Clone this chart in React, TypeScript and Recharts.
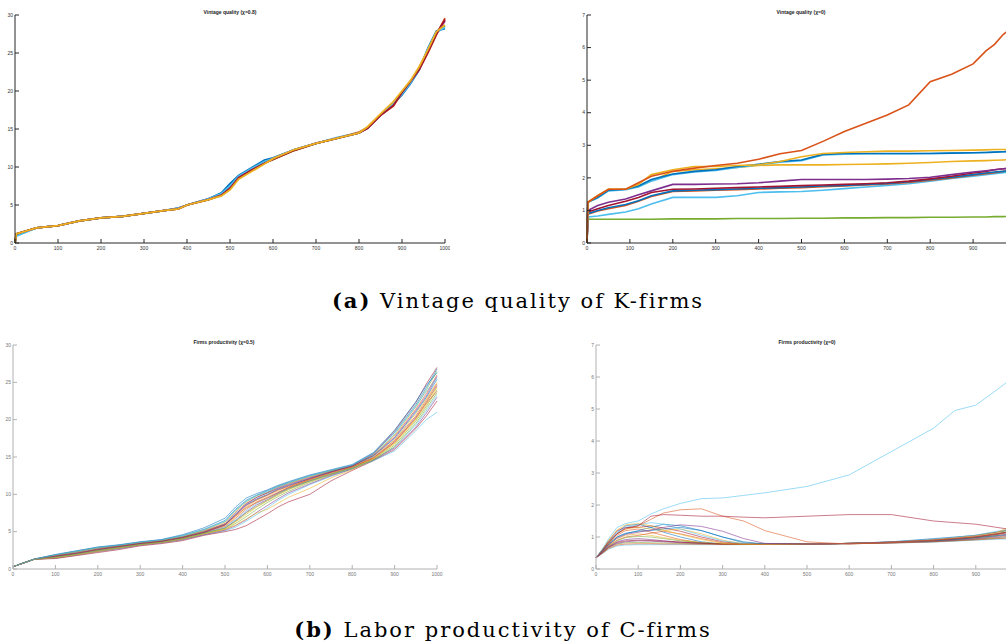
import { LineChart, Line, XAxis, YAxis } from "recharts";

// MATLAB default line colours
const C = {
  blue: "#0072BD",
  red: "#D95319",
  yellow: "#EDB120",
  purple: "#7E2F8E",
  green: "#77AC30",
  cyan: "#4DBEEE",
  maroon: "#A2142F",
};
const CYCLE = [C.blue, C.red, C.yellow, C.purple, C.green, C.cyan, C.maroon];

const X_TICKS = [0, 100, 200, 300, 400, 500, 600, 700, 800, 900, 1000];
// right-hand panels run past the page edge, so their last label is never shown
const X_TICKS_CUT = [0, 100, 200, 300, 400, 500, 600, 700, 800, 900];
const Y_TICKS_30 = [0, 5, 10, 15, 20, 25, 30];
const Y_TICKS_7 = [0, 1, 2, 3, 4, 5, 6, 7];

// ---- Vintage quality, chi = 0.8 ----
const XA = [0, 3, 50, 100, 150, 200, 250, 300, 350, 380, 400, 450, 480, 500, 520, 550, 580, 600, 650, 700, 750, 800, 820, 850, 880, 900, 920, 940, 960, 980, 1000];
const aBlue = [0, 1.1, 2.0, 2.3, 2.9, 3.3, 3.5, 3.9, 4.3, 4.6, 5.0, 5.8, 6.6, 7.8, 8.9, 9.9, 10.9, 11.2, 12.3, 13.1, 13.8, 14.5, 15.2, 16.9, 18.3, 19.5, 21.0, 22.8, 25.6, 27.9, 28.2];
const aRed = [0, 1.2, 2.0, 2.3, 2.9, 3.3, 3.5, 3.9, 4.3, 4.5, 5.0, 5.7, 6.3, 7.2, 8.6, 9.6, 10.5, 11.0, 12.2, 13.1, 13.8, 14.6, 15.2, 16.8, 18.0, 19.8, 21.3, 22.9, 25.0, 27.4, 29.6];
const aPurple = [0, 1.2, 2.0, 2.3, 2.9, 3.3, 3.5, 3.9, 4.3, 4.6, 5.0, 5.8, 6.4, 7.3, 8.7, 9.7, 10.6, 11.1, 12.3, 13.1, 13.8, 14.5, 15.1, 16.8, 18.2, 19.8, 21.2, 23.0, 25.2, 27.6, 29.2];
const aGreen = [0, 1.2, 2.0, 2.3, 2.9, 3.3, 3.5, 3.9, 4.3, 4.5, 5.0, 5.7, 6.3, 7.1, 8.5, 9.5, 10.5, 11.0, 12.2, 13.1, 13.8, 14.5, 15.2, 16.9, 18.3, 19.9, 21.2, 23.1, 25.3, 27.7, 28.6];
const aCyan = [0, 0.9, 2.0, 2.3, 2.9, 3.3, 3.5, 3.9, 4.3, 4.6, 5.0, 5.8, 6.5, 7.5, 8.8, 9.8, 10.7, 11.1, 12.3, 13.1, 13.9, 14.5, 15.2, 16.9, 18.4, 19.6, 21.1, 22.9, 25.5, 27.7, 28.4];
const aMaroon = [0, 1.2, 2.0, 2.3, 2.9, 3.3, 3.5, 3.9, 4.3, 4.5, 5.0, 5.7, 6.3, 7.2, 8.6, 9.6, 10.5, 11.0, 12.2, 13.1, 13.8, 14.5, 15.1, 16.8, 18.1, 19.8, 21.3, 22.8, 25.1, 27.5, 29.4];
const aYellow = [0, 1.2, 2.0, 2.3, 2.9, 3.3, 3.5, 3.9, 4.3, 4.5, 5.0, 5.7, 6.2, 7.0, 8.4, 9.4, 10.4, 11.1, 12.3, 13.1, 13.8, 14.5, 15.3, 17.0, 18.6, 20.0, 21.4, 23.2, 25.4, 27.8, 28.7];

// ---- Vintage quality, chi = 0 ----
const XB = [0, 2, 25, 50, 90, 120, 150, 200, 250, 300, 350, 400, 450, 500, 550, 600, 650, 700, 750, 800, 850, 900, 930, 950, 970, 1000];
const bGreen = [0, 0.73, 0.73, 0.73, 0.73, 0.73, 0.73, 0.74, 0.74, 0.74, 0.75, 0.75, 0.75, 0.76, 0.76, 0.77, 0.77, 0.78, 0.78, 0.79, 0.79, 0.8, 0.8, 0.81, 0.81, 0.82];
const bCyanLow = [0, 0.8, 0.83, 0.88, 0.95, 1.05, 1.2, 1.4, 1.4, 1.4, 1.45, 1.55, 1.57, 1.58, 1.62, 1.67, 1.72, 1.77, 1.82, 1.9, 1.98, 2.05, 2.1, 2.13, 2.16, 2.2];
const bRedLow = [0, 0.88, 0.98, 1.05, 1.15, 1.28, 1.43, 1.58, 1.6, 1.62, 1.64, 1.66, 1.68, 1.7, 1.73, 1.75, 1.78, 1.81, 1.86, 1.93, 2.0, 2.08, 2.13, 2.16, 2.2, 2.24];
const bBlueLow = [0, 0.9, 1.0, 1.08, 1.18, 1.3, 1.45, 1.6, 1.62, 1.64, 1.66, 1.68, 1.7, 1.72, 1.75, 1.77, 1.8, 1.83, 1.88, 1.95, 2.02, 2.1, 2.15, 2.18, 2.2, 2.24];
const bMaroon = [0, 0.95, 1.05, 1.15, 1.28, 1.4, 1.55, 1.65, 1.66, 1.68, 1.7, 1.72, 1.74, 1.76, 1.78, 1.8, 1.82, 1.85, 1.9, 1.97, 2.05, 2.15, 2.2, 2.25, 2.28, 2.32];
const bPurple = [0, 1.0, 1.15, 1.25, 1.35, 1.48, 1.6, 1.8, 1.8, 1.81, 1.82, 1.85, 1.9, 1.95, 1.95, 1.95, 1.95, 1.96, 1.98, 2.02, 2.1, 2.18, 2.22, 2.25, 2.28, 2.3];
const bYellowLow = [0, 1.25, 1.45, 1.65, 1.65, 1.75, 1.9, 2.2, 2.25, 2.28, 2.32, 2.38, 2.4, 2.4, 2.4, 2.41, 2.42, 2.43, 2.45, 2.47, 2.5, 2.52, 2.53, 2.54, 2.55, 2.57];
const bCyanHigh = [0, 1.25, 1.38, 1.6, 1.64, 1.72, 1.9, 2.1, 2.18, 2.23, 2.32, 2.4, 2.48, 2.53, 2.7, 2.73, 2.74, 2.74, 2.74, 2.75, 2.76, 2.77, 2.78, 2.79, 2.8, 2.82];
const bBlueHigh = [0, 1.25, 1.4, 1.62, 1.65, 1.75, 1.95, 2.12, 2.2, 2.25, 2.35, 2.42, 2.5, 2.55, 2.72, 2.75, 2.75, 2.75, 2.75, 2.75, 2.76, 2.77, 2.78, 2.79, 2.8, 2.82];
const bYellowHigh = [0, 1.25, 1.45, 1.65, 1.65, 1.8, 2.1, 2.25, 2.35, 2.35, 2.38, 2.4, 2.5, 2.65, 2.75, 2.78, 2.8, 2.82, 2.82, 2.83, 2.84, 2.85, 2.86, 2.87, 2.87, 2.88];
const bRedHigh = [0, 1.25, 1.45, 1.65, 1.65, 1.85, 2.05, 2.2, 2.3, 2.38, 2.45, 2.57, 2.74, 2.84, 3.12, 3.42, 3.68, 3.93, 4.24, 4.95, 5.18, 5.5, 5.9, 6.1, 6.4, 6.7];

// ---- Firms productivity, chi = 0.5 ----
const XC = [0, 25, 50, 100, 150, 200, 250, 300, 350, 400, 450, 500, 525, 550, 575, 600, 625, 650, 700, 750, 800, 850, 900, 950, 975, 1000];
const c01 = [0.3, 0.85, 1.35, 1.9, 2.4, 2.9, 3.2, 3.6, 3.9, 4.5, 5.3, 6.5, 8.0, 9.2, 9.9, 10.5, 11.1, 11.6, 12.5, 13.2, 13.9, 15.5, 18.3, 22.0, 24.3, 26.8];
const c02 = [0.3, 0.82, 1.3, 1.8, 2.3, 2.8, 3.1, 3.5, 3.8, 4.3, 5.1, 6.1, 7.6, 8.8, 9.6, 10.2, 10.9, 11.4, 12.3, 13.1, 13.8, 15.2, 17.8, 21.4, 23.5, 26.0];
const c03 = [0.3, 0.8, 1.3, 1.7, 2.1, 2.6, 3.0, 3.4, 3.7, 4.2, 4.9, 5.8, 7.0, 8.3, 9.2, 9.8, 10.5, 11.0, 12.0, 12.9, 13.7, 15.0, 17.3, 20.8, 22.8, 25.0];
const c04 = [0.3, 0.78, 1.28, 1.6, 2.0, 2.5, 2.9, 3.3, 3.6, 4.1, 4.8, 5.5, 6.5, 7.6, 8.6, 9.3, 10.1, 10.8, 11.8, 12.7, 13.6, 14.8, 17.0, 20.3, 22.3, 24.6];
const c05 = [0.3, 0.8, 1.3, 1.5, 1.9, 2.4, 2.8, 3.3, 3.6, 4.0, 4.7, 5.3, 6.1, 7.0, 8.0, 8.9, 9.7, 10.4, 11.6, 12.6, 13.5, 14.7, 16.6, 19.8, 21.8, 24.0];
const c06 = [0.3, 0.8, 1.3, 1.5, 2.0, 2.3, 2.7, 3.2, 3.5, 3.9, 4.6, 5.1, 5.6, 6.4, 7.3, 8.2, 9.2, 10.0, 11.3, 12.4, 13.4, 14.6, 16.3, 19.3, 21.2, 23.3];
const c07 = [0.3, 0.8, 1.3, 1.4, 1.8, 2.2, 2.6, 3.1, 3.4, 3.8, 4.5, 5.0, 5.3, 5.8, 6.6, 7.4, 8.3, 9.0, 10.0, 11.8, 13.2, 14.5, 16.0, 18.8, 20.5, 22.5];
const c08 = [0.3, 0.82, 1.32, 1.75, 2.2, 2.7, 3.1, 3.45, 3.75, 4.3, 5.0, 6.0, 7.4, 8.6, 9.4, 10.0, 10.7, 11.2, 12.1, 13.0, 13.8, 15.1, 17.5, 21.0, 23.0, 25.4];
const c09 = [0.3, 0.8, 1.3, 1.65, 2.05, 2.55, 2.95, 3.35, 3.65, 4.15, 4.85, 5.7, 6.8, 8.0, 9.0, 9.6, 10.3, 10.9, 11.9, 12.8, 13.6, 14.9, 17.2, 20.5, 22.6, 24.8];
const c10 = [0.3, 0.79, 1.29, 1.55, 1.95, 2.45, 2.85, 3.25, 3.55, 4.05, 4.75, 5.4, 6.3, 7.3, 8.3, 9.1, 9.9, 10.6, 11.7, 12.65, 13.55, 14.75, 16.8, 20.0, 22.0, 24.3];
const c11 = [0.3, 0.8, 1.3, 1.45, 1.85, 2.35, 2.75, 3.2, 3.5, 3.95, 4.6, 5.2, 5.8, 6.6, 7.6, 8.5, 9.4, 10.2, 11.4, 12.5, 13.4, 14.6, 16.2, 19.0, 20.9, 23.0];
const c12 = [0.3, 0.81, 1.31, 1.85, 2.35, 2.85, 3.15, 3.55, 3.85, 4.4, 5.2, 6.3, 7.8, 9.0, 9.8, 10.3, 11.0, 11.5, 12.4, 13.15, 13.85, 15.3, 18.0, 21.7, 24.0, 26.5];
const c13 = [0.3, 0.8, 1.3, 1.6, 2.0, 2.5, 2.9, 3.3, 3.6, 4.1, 4.8, 5.6, 6.6, 7.8, 8.8, 9.5, 10.2, 10.8, 11.8, 12.7, 13.5, 14.5, 15.8, 18.5, 20.0, 21.0];
const c14 = [0.3, 0.8, 1.3, 1.7, 2.1, 2.6, 3.0, 3.4, 3.7, 4.2, 4.9, 5.9, 7.2, 8.5, 9.3, 9.9, 10.6, 11.1, 12.1, 13.0, 13.8, 15.4, 18.5, 22.3, 24.8, 27.0];
const c15 = [0.3, 0.83, 1.33, 1.95, 2.45, 2.95, 3.25, 3.65, 3.95, 4.6, 5.5, 6.8, 8.3, 9.5, 10.1, 10.6, 11.2, 11.7, 12.6, 13.3, 14.0, 15.6, 18.6, 22.4, 24.6, 26.3];
const c16 = [0.3, 0.8, 1.3, 1.75, 2.15, 2.65, 3.05, 3.45, 3.75, 4.25, 5.0, 6.0, 7.1, 8.2, 8.9, 9.5, 10.2, 10.9, 12.0, 12.9, 13.7, 14.9, 17.0, 20.2, 22.2, 23.8];
const c17 = [0.3, 0.8, 1.3, 1.5, 1.9, 2.35, 2.8, 3.25, 3.55, 4.0, 4.7, 5.3, 5.9, 6.7, 7.5, 8.0, 8.8, 9.6, 10.8, 12.2, 13.3, 14.7, 16.9, 20.1, 22.4, 24.4];
const c18 = [0.3, 0.81, 1.31, 1.7, 2.1, 2.6, 3.0, 3.4, 3.7, 4.2, 4.9, 5.9, 7.3, 8.7, 9.6, 10.2, 10.8, 11.3, 12.2, 13.0, 13.8, 15.2, 17.6, 21.2, 23.2, 25.8];
const c19 = [0.3, 0.8, 1.3, 1.58, 1.98, 2.48, 2.88, 3.28, 3.58, 4.08, 4.78, 5.45, 6.4, 7.5, 8.4, 9.2, 10.0, 10.7, 11.8, 12.7, 13.5, 14.6, 16.4, 19.5, 21.5, 23.6];
const c20 = [0.3, 0.8, 1.3, 1.88, 2.38, 2.88, 3.18, 3.58, 3.88, 4.45, 5.25, 6.4, 7.9, 9.1, 9.85, 10.4, 11.0, 11.55, 12.45, 13.2, 13.9, 15.4, 18.2, 21.8, 23.8, 25.6];

// ---- Firms productivity, chi = 0 ----
const XD = [0, 15, 30, 50, 70, 100, 130, 160, 200, 250, 300, 350, 400, 500, 600, 700, 800, 850, 900, 950, 1000];
const d01 = [0.35, 0.6, 0.85, 1.15, 1.35, 1.4, 1.3, 1.15, 1.0, 0.85, 0.78, 0.77, 0.77, 0.78, 0.8, 0.84, 0.9, 0.95, 1.0, 1.1, 1.2];
const d02 = [0.35, 0.58, 0.8, 1.05, 1.2, 1.25, 1.15, 1.05, 0.92, 0.82, 0.78, 0.77, 0.77, 0.78, 0.8, 0.83, 0.88, 0.92, 0.97, 1.05, 1.15];
const d03 = [0.35, 0.55, 0.75, 0.95, 1.05, 1.1, 1.05, 0.98, 0.9, 0.82, 0.78, 0.77, 0.77, 0.78, 0.8, 0.83, 0.87, 0.9, 0.95, 1.0, 1.08];
const d04 = [0.35, 0.52, 0.7, 0.85, 0.92, 0.95, 0.92, 0.88, 0.84, 0.8, 0.78, 0.77, 0.77, 0.78, 0.8, 0.82, 0.86, 0.89, 0.93, 0.98, 1.05];
const d05 = [0.35, 0.5, 0.66, 0.78, 0.82, 0.83, 0.82, 0.81, 0.8, 0.79, 0.78, 0.77, 0.77, 0.78, 0.79, 0.82, 0.85, 0.88, 0.92, 0.96, 1.0];
const d06 = [0.35, 0.48, 0.62, 0.72, 0.75, 0.76, 0.76, 0.76, 0.76, 0.76, 0.76, 0.76, 0.77, 0.78, 0.79, 0.81, 0.84, 0.87, 0.9, 0.93, 0.95];
const d07 = [0.35, 0.6, 0.88, 1.2, 1.3, 1.3, 1.35, 1.28, 1.18, 1.0, 0.85, 0.78, 0.77, 0.78, 0.8, 0.84, 0.92, 0.98, 1.05, 1.15, 1.3];
const d08 = [0.35, 0.56, 0.78, 1.0, 1.1, 1.2, 1.3, 1.4, 1.35, 1.2, 1.0, 0.82, 0.78, 0.78, 0.8, 0.85, 0.95, 1.0, 1.05, 1.15, 1.25];
const d09 = [0.35, 0.54, 0.73, 0.9, 1.0, 1.05, 1.12, 1.18, 1.1, 0.95, 0.82, 0.78, 0.77, 0.78, 0.8, 0.83, 0.9, 0.94, 1.0, 1.1, 1.2];
const d10 = [0.35, 0.57, 0.8, 1.1, 1.25, 1.3, 1.25, 1.2, 1.25, 1.1, 0.9, 0.79, 0.77, 0.78, 0.8, 0.84, 0.9, 0.96, 1.02, 1.12, 1.35];
const d11 = [0.35, 0.5, 0.68, 0.8, 0.85, 0.88, 0.87, 0.85, 0.82, 0.8, 0.78, 0.77, 0.77, 0.78, 0.79, 0.82, 0.86, 0.9, 0.95, 1.02, 1.1];
const d12 = [0.35, 0.53, 0.72, 0.88, 0.98, 1.02, 1.0, 0.95, 0.88, 0.82, 0.78, 0.77, 0.77, 0.78, 0.8, 0.83, 0.88, 0.93, 0.98, 1.05, 1.4];
const d13 = [0.35, 0.59, 0.84, 1.12, 1.3, 1.38, 1.45, 1.4, 1.25, 1.05, 0.88, 0.79, 0.77, 0.78, 0.8, 0.85, 0.93, 0.99, 1.06, 1.18, 1.28];
const d14 = [0.35, 0.51, 0.69, 0.83, 0.88, 0.9, 0.89, 0.87, 0.84, 0.81, 0.78, 0.77, 0.77, 0.78, 0.8, 0.84, 0.89, 0.93, 0.99, 1.08, 1.18];
const d15 = [0.35, 0.56, 0.77, 1.0, 1.12, 1.18, 1.2, 1.25, 1.3, 1.2, 1.0, 0.85, 0.78, 0.78, 0.8, 0.83, 0.88, 0.92, 0.98, 1.04, 1.12];
const d16 = [0.35, 0.49, 0.64, 0.75, 0.78, 0.79, 0.79, 0.78, 0.78, 0.77, 0.77, 0.77, 0.77, 0.78, 0.79, 0.81, 0.85, 0.88, 0.91, 0.95, 0.98];
const d17 = [0.35, 0.61, 0.9, 1.22, 1.38, 1.42, 1.35, 1.22, 1.08, 0.92, 0.8, 0.77, 0.77, 0.78, 0.8, 0.84, 0.91, 0.97, 1.04, 1.14, 1.45];
const d18 = [0.35, 0.55, 0.76, 0.96, 1.08, 1.15, 1.22, 1.3, 1.38, 1.33, 1.18, 0.95, 0.8, 0.78, 0.8, 0.84, 0.9, 0.95, 1.01, 1.1, 1.22];
const dOrange = [0.35, 0.6, 0.85, 1.1, 1.25, 1.35, 1.55, 1.75, 1.85, 1.88, 1.65, 1.5, 1.2, 0.85, 0.78, 0.83, 0.9, 0.95, 1.0, 1.1, 1.2];
const dPink = [0.35, 0.58, 0.82, 1.1, 1.28, 1.35, 1.65, 1.7, 1.68, 1.65, 1.65, 1.62, 1.6, 1.65, 1.7, 1.7, 1.5, 1.45, 1.4, 1.3, 1.2];
const dLeader = [0.35, 0.62, 0.95, 1.3, 1.42, 1.5, 1.72, 1.88, 2.05, 2.2, 2.22, 2.3, 2.38, 2.58, 2.94, 3.67, 4.4, 4.95, 5.12, 5.6, 6.1];

type Series = { key: string; color: string; values: number[] };

function cycled(list: number[][], prefix: string): Series[] {
  return list.map((values, i) => ({ key: `${prefix}${i}`, color: CYCLE[i % CYCLE.length], values }));
}

function toRows(xs: number[], series: Series[]) {
  return xs.map((t, i) => {
    const row: Record<string, number> = { t };
    series.forEach((s) => {
      row[s.key] = s.values[i];
    });
    return row;
  });
}

const seriesA: Series[] = [
  { key: "a1", color: C.blue, values: aBlue },
  { key: "a2", color: C.red, values: aRed },
  { key: "a3", color: C.purple, values: aPurple },
  { key: "a4", color: C.green, values: aGreen },
  { key: "a5", color: C.cyan, values: aCyan },
  { key: "a6", color: C.maroon, values: aMaroon },
  { key: "a7", color: C.yellow, values: aYellow },
];

const seriesB: Series[] = [
  { key: "b1", color: C.green, values: bGreen },
  { key: "b2", color: C.cyan, values: bCyanLow },
  { key: "b3", color: C.red, values: bRedLow },
  { key: "b4", color: C.blue, values: bBlueLow },
  { key: "b5", color: C.maroon, values: bMaroon },
  { key: "b6", color: C.purple, values: bPurple },
  { key: "b7", color: C.yellow, values: bYellowLow },
  { key: "b8", color: C.cyan, values: bCyanHigh },
  { key: "b9", color: C.blue, values: bBlueHigh },
  { key: "b10", color: C.yellow, values: bYellowHigh },
  { key: "b11", color: C.red, values: bRedHigh },
];

const seriesC = cycled(
  [c01, c02, c03, c04, c05, c06, c07, c08, c09, c10, c11, c12, c13, c14, c15, c16, c17, c18, c19, c20],
  "c",
);

const seriesD: Series[] = [
  ...cycled([d01, d02, d03, d04, d05, d06, d07, d08, d09, d10, d11, d12, d13, d14, d15, d16, d17, d18], "d"),
  { key: "dOrange", color: C.red, values: dOrange },
  { key: "dPink", color: C.maroon, values: dPink },
  { key: "dLeader", color: C.cyan, values: dLeader },
];

type PanelProps = {
  left: number;
  top: number;
  width: number;
  height: number;
  yWidth: number;
  right: number;
  xs: number[];
  xTicks: number[];
  series: Series[];
  yMax: number;
  yTicks: number[];
  title: string;
  titleX: number;
  frame: string;
  label: string;
  lineWidth: number;
  lineOpacity: number;
};

function Panel(p: PanelProps) {
  const rows = toRows(p.xs, p.series);
  const tickFont = { fontSize: 5, fill: p.label, fontFamily: "Liberation Sans" };
  return (
    <div style={{ position: "absolute", left: p.left, top: p.top, width: p.width, height: p.height }}>
      <LineChart width={p.width} height={p.height} data={rows} margin={{ top: 15, right: p.right, bottom: 0, left: 0 }}>
        <XAxis dataKey="t" type="number" domain={[0, 1000]} ticks={p.xTicks} interval={0} height={17}
          tickSize={-4} tickMargin={7} stroke={p.frame} tick={tickFont} />
        <XAxis xAxisId="top" orientation="top" dataKey="t" type="number" domain={[0, 1000]} ticks={X_TICKS}
          interval={0} height={0} tickSize={-4} tick={false} stroke={p.frame} />
        <YAxis type="number" domain={[0, p.yMax]} ticks={p.yTicks} interval={0} width={p.yWidth}
          tickSize={-4} tickMargin={6} stroke={p.frame} tick={tickFont} />
        <YAxis yAxisId="right" orientation="right" type="number" domain={[0, p.yMax]} ticks={p.yTicks}
          interval={0} width={0} tickSize={-4} tick={false} stroke={p.frame} />
        {p.series.map((s) => (
          <Line key={s.key} dataKey={s.key} type="linear" stroke={s.color} strokeWidth={p.lineWidth}
            strokeOpacity={p.lineOpacity} dot={false} isAnimationActive={false} />
        ))}
      </LineChart>
      <div style={{
        position: "absolute", left: p.titleX - p.left, top: 9, transform: "translateX(-50%)",
        fontFamily: "Liberation Sans", fontWeight: "bold", fontSize: 5, color: "#222", whiteSpace: "nowrap",
      }}>
        {p.title}
      </div>
    </div>
  );
}

const captionStyle: React.CSSProperties = {
  position: "absolute",
  fontFamily: "DejaVu Serif",
  fontSize: 21,
  lineHeight: "20px",
  letterSpacing: 2,
  color: "#000",
  whiteSpace: "nowrap",
  transform: "translateX(-50%)",
};

export default function App() {
  return (
    <div style={{ position: "absolute", left: 0, top: 0, width: 1006, height: 643, overflow: "hidden", background: "#fff" }}>
      <Panel left={0} top={0} width={450} height={260} yWidth={15} right={5} xs={XA} xTicks={X_TICKS}
        series={seriesA} yMax={30} yTicks={Y_TICKS_30} title="Vintage quality (χ=0.8)" titleX={230}
        frame="#262626" label="#333" lineWidth={1.8} lineOpacity={1} />
      <Panel left={572} top={0} width={450} height={260} yWidth={15} right={6} xs={XB} xTicks={X_TICKS_CUT}
        series={seriesB} yMax={7} yTicks={Y_TICKS_7} title="Vintage quality (χ=0)" titleX={801}
        frame="#262626" label="#333" lineWidth={1.6} lineOpacity={1} />
      <Panel left={0} top={330} width={450} height={256} yWidth={13} right={13} xs={XC} xTicks={X_TICKS}
        series={seriesC} yMax={30} yTicks={Y_TICKS_30} title="Firms productivity (χ=0.5)" titleX={224}
        frame="#b0b0b0" label="#777" lineWidth={0.7} lineOpacity={0.8} />
      <Panel left={581} top={330} width={450} height={256} yWidth={15} right={13} xs={XD} xTicks={X_TICKS_CUT}
        series={seriesD} yMax={7} yTicks={Y_TICKS_7} title="Firms productivity (χ=0)" titleX={807}
        frame="#b0b0b0" label="#777" lineWidth={0.7} lineOpacity={0.8} />
      <div style={{ ...captionStyle, left: 518, top: 291 }}>
        <b>(a)</b> Vintage quality of K-firms
      </div>
      <div style={{ ...captionStyle, left: 503, top: 620 }}>
        <b>(b)</b> Labor productivity of C-firms
      </div>
    </div>
  );
}
